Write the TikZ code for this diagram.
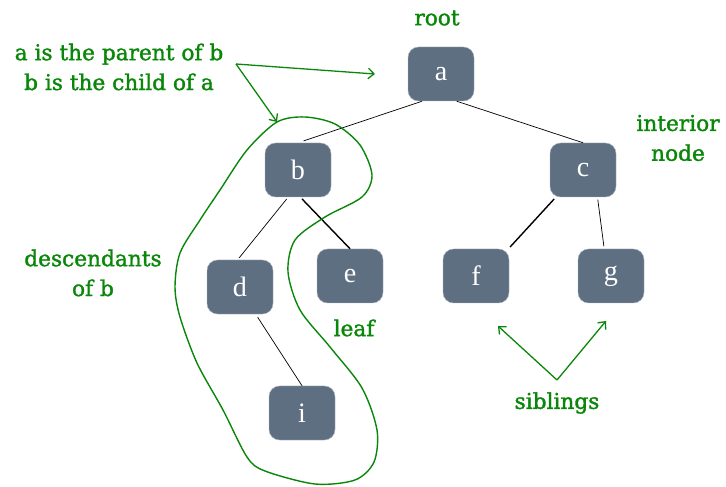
\documentclass[tikz,border=0pt]{standalone}
\usepackage{fontspec}
\setmainfont{Liberation Serif}
\newfontfamily\slabfont[FakeBold=1.6]{DejaVu Serif}
\definecolor{NodeSlate}{HTML}{5F6F82}
\definecolor{NoteGreen}{HTML}{0A870A}
\usetikzlibrary{arrows.meta}

\begin{document}
\begin{tikzpicture}[x=0.03cm, y=-0.03cm,
  box/.style={draw=NodeSlate!55!white, line width=0.4pt, fill=NodeSlate,
              rounded corners=9pt, minimum width=1.98cm, minimum height=1.62cm,
              text=white, font=\fontsize{24}{28}\selectfont},
  note/.style={text=NoteGreen, font=\slabfont\fontsize{18.5}{25.5}\selectfont, align=center},
  pointer/.style={draw=NoteGreen, line width=1.1pt, -{Straight Barb[length=5pt,width=9pt]}},
  edge/.style={line width=0.6pt},
  thickedge/.style={line width=1.2pt}]
  \useasboundingbox (0,0) rectangle (726,487);

  % the tree
  \node[box] (a) at (441,74) {a};
  \node[box] (b) at (298,170) {b};
  \node[box] (c) at (583,170) {c};
  \node[box] (d) at (240,287) {d};
  \node[box] (e) at (350,276) {e};
  \node[box] (f) at (476,276) {f};
  \node[box] (g) at (611,276) {g};
  \node[box] (i) at (302,413) {i};

  \draw[edge, shorten >=5pt] (a.235) -- (b.north);
  \draw[edge] (a.300) -- (c.north);
  \draw[edge, shorten <=2pt, shorten >=2pt] (b.250) -- (d.95);
  \draw[thickedge, shorten <=2pt] (b.275) -- (e.north);
  \draw[edge, shorten <=3pt] (d.300) -- (i.north);
  \draw[thickedge, shorten <=2pt, shorten >=2pt] (c.225) -- (f.40);
  \draw[edge, shorten <=2pt, shorten >=2pt] (c.298) -- (g.104);

  % labels
  \node[note] (root) at (437,18) {root};
  \node[note] (parent) at (119,67) {a is the parent of b\\b is the child of a};
  \node[note] (interior) at (678,138) {interior\\node};
  \node[note] (desc) at (93,273) {descendants\\of b};
  \node[note] (leaf) at (354,328) {leaf};
  \node[note] (sib) at (557,403) {siblings};

  % subtree of b
  \draw[NoteGreen, line width=1.2pt] plot[smooth cycle] coordinates {
    (277,122) (305,117) (335,124) (360,145) (372,175) (362,197) (325,217)
    (295,240) (288,272) (300,310) (330,347) (362,388) (377,430) (374,462)
    (355,480) (315,484) (265,471) (247,457) (223,410) (197,363) (180,317)
    (175,287) (180,253) (200,220) (220,190) (247,150)};
  \coordinate (blobtop) at (277,122);

  \coordinate (fork) at (236,64);
  \coordinate (sibfork) at (557,380);
  \draw[pointer] (fork) -- ([xshift=-28pt]a.west);
  \draw[pointer] (fork) -- (blobtop);
  \draw[pointer] (sibfork) -- (498,326);
  \draw[pointer] (sibfork) -- (606,321);
\end{tikzpicture}
\end{document}
